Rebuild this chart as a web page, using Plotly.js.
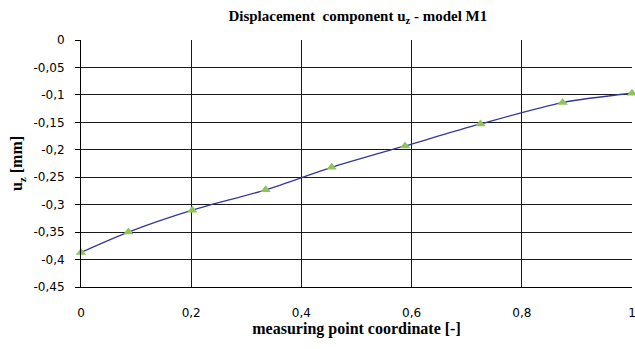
<!DOCTYPE html>
<html>
<head>
<meta charset="utf-8">
<script src="https://cdn.plot.ly/plotly-3.0.1.min.js"></script>
<style>html,body{margin:0;padding:0;background:#fff;}#chart{width:635px;height:349px;}</style>
</head>
<body>
<div id="chart"></div>
<script>
const coordX = [0, 0.086, 0.202, 0.335, 0.455, 0.588, 0.725, 0.874, 1.0];
const displacementUz = [-0.387, -0.350, -0.310, -0.273, -0.232, -0.193, -0.153, -0.114, -0.097];
const yTicks = [0, -0.05, -0.1, -0.15, -0.2, -0.25, -0.3, -0.35, -0.4, -0.45];
const yTickLabels = ['0', '-0,05', '-0,1', '-0,15', '-0,2', '-0,25', '-0,3', '-0,35', '-0,4', '-0,45'];
const xTicks = [0, 0.2, 0.4, 0.6, 0.8, 1];
const xTickLabels = ['0', '0,2', '0,4', '0,6', '0,8', '1'];

const serif = '"Liberation Serif", "Times New Roman", serif';
const sans = '"DejaVu Sans", Tahoma, sans-serif';

const traces = [
  {
    x: coordX, y: displacementUz, type: 'scatter', mode: 'lines',
    line: {color: '#34379a', width: 1.3, shape: 'spline', smoothing: 0.8},
    hoverinfo: 'skip', showlegend: false
  },
  {
    x: coordX, y: displacementUz, type: 'scatter', mode: 'markers',
    marker: {symbol: 'triangle-up', size: 9, color: '#8fc457'},
    cliponaxis: false, showlegend: false
  }
];

const layout = {
  width: 635, height: 349,
  margin: {l: 81, r: 3, t: 40, b: 62},
  paper_bgcolor: '#fff', plot_bgcolor: '#fff',
  showlegend: false,
  title: {
    text: '<b>Displacement  component u<sub>z</sub> - model M1</b>',
    font: {family: serif, size: 15, color: '#000'},
    x: 0.5635, xanchor: 'center', y: 0.955, yanchor: 'middle'
  },
  xaxis: {
    range: [0, 1], tickvals: xTicks, ticktext: xTickLabels,
    showgrid: true, gridcolor: '#1a1a1a', gridwidth: 1,
    zeroline: false, showline: true, linecolor: '#000', linewidth: 1,
    ticks: 'outside', ticklen: 15, tickcolor: 'rgba(0,0,0,0)',
    ticklabeloverflow: 'allow',
    tickfont: {family: sans, size: 12, color: '#000'},
    title: {text: '<b>measuring point coordinate [-]</b>', font: {family: serif, size: 16, color: '#000'}, standoff: 3}
  },
  yaxis: {
    range: [-0.45, 0], tickvals: yTicks, ticktext: yTickLabels,
    showgrid: true, gridcolor: '#1a1a1a', gridwidth: 1,
    zeroline: false, showline: true, linecolor: '#000', linewidth: 1,
    ticks: 'outside', ticklen: 5, tickcolor: '#000',
    ticklabelstandoff: 8,
    tickfont: {family: sans, size: 12, color: '#000'},
    title: {text: '<b>u<sub>z</sub> [mm]</b>', font: {family: serif, size: 16, color: '#000'}, standoff: 6}
  }
};

Plotly.newPlot('chart', traces, layout, {displayModeBar: false, staticPlot: true});
</script>
</body>
</html>
